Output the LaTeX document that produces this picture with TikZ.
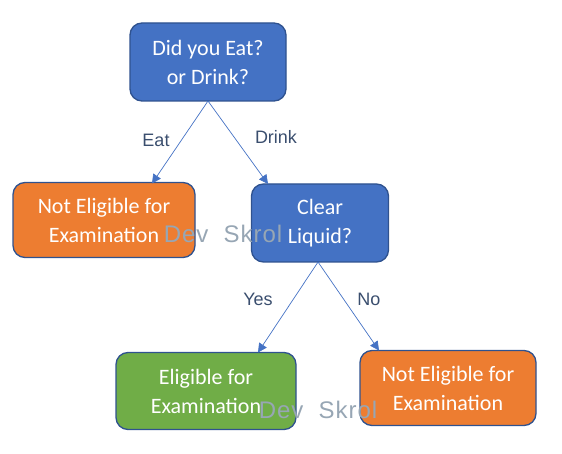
\documentclass[tikz,border=0pt]{standalone}
\usepackage{fontspec}
\setmainfont{Carlito}
\newfontfamily\wmfont[LetterSpace=4]{Liberation Sans}
\newfontfamily\lblfont{Liberation Sans}
\usetikzlibrary{arrows.meta}
\definecolor{bxblue}{HTML}{4472C4}
\definecolor{bxorange}{HTML}{ED7D31}
\definecolor{bxgreen}{HTML}{70AD47}
\definecolor{bxedge}{HTML}{2F528F}
\definecolor{lbl}{HTML}{3A4E6E}
\definecolor{wm}{HTML}{97A6B4}
\tikzset{
  box/.style={draw=bxedge, line width=1.3pt, rounded corners=12pt, text=white,
    align=center, font=\fontsize{22}{29}\selectfont, inner sep=0pt},
  conn/.style={draw=bxblue, line width=0.7pt, -{Triangle[width=9pt,length=9pt]}},
  lab/.style={text=lbl, font=\lblfont\fontsize{18}{22}\selectfont},
  wmark/.style={text=wm, font=\wmfont\fontsize{24}{28}\selectfont}
}
\begin{document}
\begin{tikzpicture}[x=1pt,y=-1pt]
\useasboundingbox (0,0) rectangle (562,454);
\node[box, fill=bxblue, minimum width=156pt, minimum height=78pt] (q1) at (208,62) {Did you Eat?\\or Drink?};
\node[box, fill=bxorange, minimum width=182pt, minimum height=75pt] (ne1) at (104,220) {Not Eligible for\\Examination};
\node[box, fill=bxblue, minimum width=137pt, minimum height=78pt] (q2) at (320,223) {Clear\\Liquid?};
\node[box, fill=bxgreen, minimum width=180pt, minimum height=77pt] (el) at (206,391) {Eligible for\\Examination};
\node[box, fill=bxorange, minimum width=176pt, minimum height=75pt] (ne2) at (448,388) {Not Eligible for\\Examination};
\coordinate (q1b) at (208,101);
\coordinate (q2b) at (318,262);
\draw[conn] (q1b) -- (152,183.5);
\draw[conn] (q1b) -- (268,184);
\draw[conn] (q2b) -- (258,352.5);
\draw[conn] (q2b) -- (379,350.5);
\node[lab] (leat) at (156,140) {Eat};
\node[lab] (ldrink) at (276,137) {Drink};
\node[lab] (lyes) at (258,299) {Yes};
\node[lab] (lno) at (369,299) {No};
\node[wmark] (wm1) at (223,234) {Dev\ \ Skrol};
\node[wmark] (wm2) at (318,410) {Dev\ \ Skrol};
\end{tikzpicture}
\end{document}
